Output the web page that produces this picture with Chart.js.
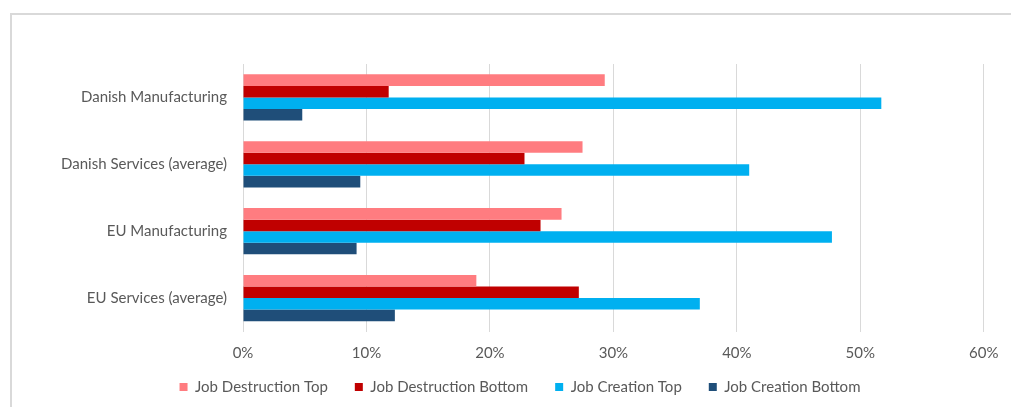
<!DOCTYPE html>
<html>
<head>
<meta charset="utf-8">
<script src="https://cdn.jsdelivr.net/npm/chart.js@4"></script>
<style>
  html, body { margin: 0; padding: 0; background: #fff; overflow: hidden; }
  #frame { position: absolute; left: 10px; top: 13px; width: 1100px; height: 500px; border: 2px solid #d9d9d9; }
  #wrap { position: absolute; left: 0; top: 0; width: 1011px; height: 407px; }
</style>
</head>
<body>
<div id="frame"></div>
<div id="wrap"><canvas id="myChart" width="1011" height="407"></canvas></div>
<script>
// categories, top to bottom
const categories = ["Danish Manufacturing", "Danish Services (average)", "EU Manufacturing", "EU Services (average)"];

// values in percent
const jobDestructionTop = [29.3, 27.5, 25.8, 18.9];
const jobDestructionBottom = [11.8, 22.8, 24.1, 27.2];
const jobCreationTop = [51.7, 41.0, 47.7, 37.0];
const jobCreationBottom = [4.8, 9.5, 9.2, 12.3];

const xTicks = [0, 10, 20, 30, 40, 50, 60];

// fix the legend size and move it to where the original has it
const legendShift = {
    id: 'legendShift',
    beforeLayout(chart) {
        var lg = chart.legend;
        if (lg && !lg._fixed) {
            var fit = lg.fit;
            lg.fit = function () { fit.call(this); this.height = 45.5; };
            lg._fixed = true;
        }
    },
    afterLayout(chart) {
        var lg = chart.legend;
        var dx = 520 - (lg.left + lg.right) / 2;
        lg.left += dx;
        lg.right += dx;
        var h = lg.height;
        lg.top = 352.5;
        lg.bottom = lg.top + h;
    }
};

Chart.defaults.font.family = 'Lato';
Chart.defaults.font.size = 15;
Chart.defaults.color = '#595959';

function ds(label, data, color) {
    return {
        label: label,
        data: data,
        backgroundColor: color,
        borderColor: color,
        borderWidth: 0,
        barPercentage: 1,
        categoryPercentage: 0.69
    };
}

var ctx = document.getElementById('myChart').getContext('2d');
new Chart(ctx, {
    type: 'bar',
    data: {
        labels: categories,
        datasets: [
            ds('Job Destruction Top', jobDestructionTop, '#FF7C80'),
            ds('Job Destruction Bottom', jobDestructionBottom, '#C00000'),
            ds('Job Creation Top', jobCreationTop, '#00B0F0'),
            ds('Job Creation Bottom', jobCreationBottom, '#1F4E79')
        ]
    },
    options: {
        indexAxis: 'y',
        responsive: false,
        animation: false,
        layout: { padding: { left: 0, right: 25, top: 64, bottom: 0 } },
        plugins: {
            tooltip: { enabled: false },
            legend: {
                position: 'bottom',
                labels: { boxWidth: 8, boxHeight: 8, padding: 27, color: '#595959', font: { size: 15 } }
            }
        },
        scales: {
            x: {
                min: xTicks[0],
                max: xTicks[xTicks.length - 1],
                afterBuildTicks: function (s) { s.ticks = xTicks.map(function (v) { return { value: v }; }); },
                afterFit: function (s) { s.height = 30; },
                grid: { color: '#d9d9d9', lineWidth: 1, drawTicks: false },
                border: { display: false },
                ticks: { padding: 12.5, callback: function (v) { return v + '%'; } }
            },
            y: {
                afterFit: function (s) { s.width = 243; },
                grid: { display: false, drawTicks: false },
                border: { display: false },
                ticks: { padding: 16 }
            }
        }
    },
    plugins: [legendShift]
});
</script>
</body>
</html>
